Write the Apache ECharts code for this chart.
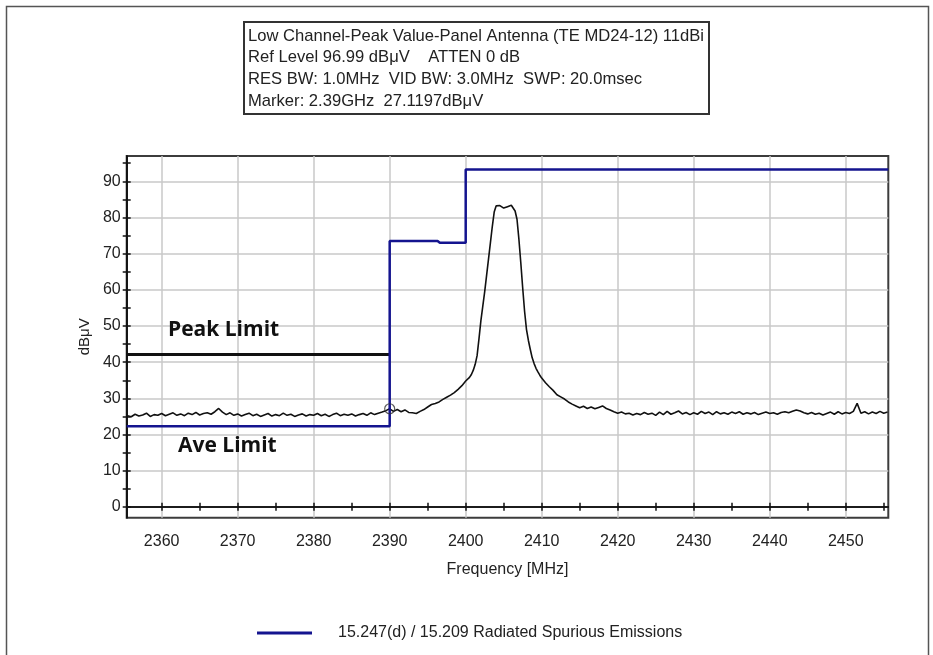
<!DOCTYPE html>
<html>
<head>
<meta charset="utf-8">
<script src="https://cdn.jsdelivr.net/npm/echarts@6/dist/echarts.min.js"></script>
<style>
  html, body { margin: 0; padding: 0; background: #fff; }
  #chart { width: 933px; height: 655px; }
</style>
</head>
<body>
<div id="chart"></div>
<script>
// Analyzer header text
const headerLines = [
  'Low Channel-Peak Value-Panel Antenna (TE MD24-12) 11dBi',
  'Ref Level 96.99 dB\u03bcV    ATTEN 0 dB',
  'RES BW: 1.0MHz  VID BW: 3.0MHz  SWP: 20.0msec',
  'Marker: 2.39GHz  27.1197dB\u03bcV'
];
const limitName = '15.247(d) / 15.209 Radiated Spurious Emissions';
const xAxisTitle = 'Frequency [MHz]';
const yAxisTitle = 'dB\u03bcV';

// Axis extents and tick values
const freqRange = [2355.4, 2455.6];
const levelRange = [-3, 97];
const freqTicks = [2360, 2370, 2380, 2390, 2400, 2410, 2420, 2430, 2440, 2450];
const freqMinorTicks = [2360, 2365, 2370, 2375, 2380, 2385, 2390, 2395, 2400, 2405, 2410,
  2415, 2420, 2425, 2430, 2435, 2440, 2445, 2450, 2455];
const levelTicks = [0, 10, 20, 30, 40, 50, 60, 70, 80, 90];
const levelMinorTicks = [0, 5, 10, 15, 20, 25, 30, 35, 40, 45, 50, 55, 60, 65, 70, 75, 80, 85, 90, 95];

// Measured sweep [MHz, dBuV]
const sweepTrace = [
  [2355.5,25.2],[2356,24.9],[2356.5,25.6],[2357,25.1],[2357.5,25.4],[2358,25.9],[2358.5,25.0],[2359,25.5],
  [2359.5,25.3],[2360,25.8],[2360.5,25.2],[2361,25.6],[2361.5,26.0],[2362,25.3],[2362.5,25.7],[2363,25.2],
  [2363.5,25.9],[2364,25.5],[2364.5,26.1],[2365,25.4],[2365.5,25.8],[2366,26.0],[2366.5,25.6],[2367,26.3],
  [2367.5,27.2],[2368,26.2],[2368.5,25.5],[2369,26.0],[2369.5,25.3],[2370,25.7],[2370.5,25.1],[2371,25.5],
  [2371.5,25.9],[2372,25.2],[2372.5,25.6],[2373,25.0],[2373.5,25.4],[2374,25.8],[2374.5,25.1],[2375,25.5],
  [2375.5,25.2],[2376,25.9],[2376.5,25.3],[2377,25.6],[2377.5,25.0],[2378,25.4],[2378.5,25.7],[2379,25.1],
  [2379.5,25.5],[2380,25.3],[2380.5,25.8],[2381,25.2],[2381.5,25.6],[2382,25.0],[2382.5,25.5],[2383,25.9],
  [2383.5,25.2],[2384,25.6],[2384.5,25.3],[2385,25.7],[2385.5,25.1],[2386,25.5],[2386.5,25.8],[2387,25.3],
  [2387.5,26.0],[2388,25.5],[2388.5,25.9],[2389,26.2],[2389.5,26.6],[2390,27.1],[2390.5,26.4],[2391,26.9],
  [2391.5,26.3],[2392,26.8],[2392.5,26.1],[2393,26.0],[2393.5,25.8],[2394,26.4],[2394.5,26.9],[2395,27.6],
  [2395.5,28.3],[2396,28.6],[2396.5,29.0],[2397,29.7],[2397.5,30.3],[2398,30.9],[2398.5,31.6],[2399,32.5],
  [2399.5,33.5],[2400,34.8],[2400.25,35.3],[2400.5,35.8],[2400.75,36.6],[2401,37.8],[2401.25,39.4],
  [2401.5,41.8],[2401.75,46.5],[2402,51.5],[2402.25,55.5],[2402.5,59.5],[2402.75,64.0],[2403,68.5],
  [2403.25,73.0],[2403.5,77.5],[2403.75,81.5],[2404,83.2],[2404.25,83.4],[2404.5,83.3],[2404.75,83.0],
  [2405,82.6],[2405.25,82.6],[2405.5,83.0],[2405.75,83.3],[2406,83.4],[2406.25,83.0],[2406.5,81.8],
  [2406.75,79.5],[2407,74.0],[2407.25,67.5],[2407.5,60.5],[2407.75,54.0],[2408,49.0],[2408.25,46.0],
  [2408.5,43.5],[2408.75,41.2],[2409,39.6],[2409.25,38.3],[2409.5,37.3],[2409.75,36.4],[2410,35.6],
  [2410.5,34.3],[2411,33.2],[2411.5,32.2],[2412,31.0],[2412.5,30.4],[2413,29.8],[2413.5,29.0],[2414,28.4],
  [2414.5,27.9],[2415,27.4],[2415.5,27.8],[2416,27.2],[2416.5,27.6],[2417,27.1],[2417.5,27.5],[2418,27.9],
  [2418.5,27.2],[2419,26.8],[2419.5,26.3],[2420,25.9],[2420.5,26.2],[2421,25.7],[2421.5,25.9],[2422,25.4],
  [2422.5,25.8],[2423,25.5],[2423.5,26.1],[2424,25.6],[2424.5,25.9],[2425,25.3],[2425.5,26.2],[2426,25.5],
  [2426.5,26.4],[2427,25.6],[2427.5,26.0],[2428,26.5],[2428.5,25.7],[2429,26.1],[2429.5,25.5],[2430,26.0],
  [2430.5,25.6],[2431,26.4],[2431.5,25.8],[2432,26.2],[2432.5,25.5],[2433,26.3],[2433.5,25.7],[2434,26.0],
  [2434.5,25.6],[2435,26.2],[2435.5,25.8],[2436,26.3],[2436.5,25.6],[2437,26.0],[2437.5,25.7],[2438,26.1],
  [2438.5,25.5],[2439,25.9],[2439.5,26.2],[2440,25.8],[2440.5,26.0],[2441,25.6],[2441.5,26.1],[2442,26.3],
  [2442.5,26.0],[2443,26.4],[2443.5,26.8],[2444,26.5],[2444.5,26.0],[2445,25.7],[2445.5,26.1],[2446,25.6],
  [2446.5,25.9],[2447,25.4],[2447.5,25.8],[2448,26.2],[2448.5,25.6],[2449,26.3],[2449.5,25.7],[2450,26.1],
  [2450.5,25.8],[2451,26.4],[2451.5,28.6],[2452,25.9],[2452.5,26.3],[2453,25.7],[2453.5,26.2],[2454,25.8],
  [2454.5,26.4],[2455,25.9],[2455.5,26.2]
];

// Regulatory limit (average below band edge, restricted band / fundamental above)
const limitLine = [
  [2355.4,22.3],[2390,22.3],[2390,73.5],[2396.3,73.5],[2396.6,73.0],[2400,73.0],[2400,93.3],[2455.6,93.3]
];
// Peak limit below the band edge
const peakLimitLine = [[2355.4,42.1],[2390,42.1]];
// Marker reading
const markerPoint = [[2390, 27.1197]];

const FONT = '"Liberation Sans", Arial, sans-serif';
const gridColor = '#c9c9c9';
const plainNumber = v => String(v);

const chart = echarts.init(document.getElementById('chart'), null, { renderer: 'canvas' });

function tickAxis(dim, inside, extra) {
  return Object.assign({
    type: 'value',
    min: dim === 'x' ? freqRange[0] : levelRange[0],
    max: dim === 'x' ? freqRange[1] : levelRange[1],
    axisLine: { show: true, lineStyle: { color: '#111', width: 1.5 } },
    axisTick: {
      show: true, inside: inside, length: 4,
      customValues: dim === 'x' ? freqMinorTicks : levelMinorTicks,
      lineStyle: { color: '#111', width: 1.5 }
    },
    axisLabel: { show: false },
    splitLine: { show: false }
  }, extra);
}

chart.setOption({
  animation: false,
  backgroundColor: '#fff',
  textStyle: { fontFamily: FONT },
  grid: {
    left: 126.7, right: 44.7, top: 156, bottom: 137.3,
    show: true, borderColor: '#3c3c3c', borderWidth: 2, backgroundColor: '#fff',
    outerBoundsMode: 'none'
  },
  legend: {
    data: [limitName],
    left: 257, top: 625, padding: 0,
    icon: 'rect', itemWidth: 55, itemHeight: 3,
    textStyle: { fontFamily: FONT, fontSize: 16, color: '#222', padding: [0, 0, 0, 21] },
    selectedMode: false
  },
  xAxis: [
    {
      type: 'value', min: freqRange[0], max: freqRange[1], position: 'bottom',
      name: xAxisTitle, nameLocation: 'middle', nameGap: 44,
      nameTextStyle: { fontFamily: FONT, fontSize: 16, color: '#222' },
      axisLine: { show: false, onZero: false },
      axisTick: { show: false, customValues: freqTicks },
      axisLabel: { customValues: freqTicks, formatter: plainNumber, margin: 16, fontSize: 16, color: '#222', fontFamily: FONT },
      splitLine: { show: true, lineStyle: { color: gridColor, width: 1.5 } }
    },
    tickAxis('x', true, { position: 'bottom', axisLine: { show: true, onZero: true, onZeroAxisIndex: 0, lineStyle: { color: '#111', width: 1.5 } } }),
    tickAxis('x', false, { position: 'bottom', axisLine: { show: true, onZero: true, onZeroAxisIndex: 0, lineStyle: { color: '#111', width: 1.5 } } })
  ],
  yAxis: [
    {
      type: 'value', min: levelRange[0], max: levelRange[1], position: 'left',
      name: yAxisTitle, nameLocation: 'middle', nameGap: 32, nameRotate: 90,
      nameTextStyle: { fontFamily: FONT, fontSize: 15, color: '#222' },
      axisLine: { show: false, onZero: false },
      axisTick: { show: false, customValues: levelTicks },
      axisLabel: { customValues: levelTicks, formatter: plainNumber, margin: 6, fontSize: 16, color: '#222', fontFamily: FONT },
      splitLine: { show: true, lineStyle: { color: gridColor, width: 1.5 } }
    },
    tickAxis('y', true, { position: 'left', axisLine: { show: true, onZero: false, lineStyle: { color: '#111', width: 1.5 } } }),
    tickAxis('y', false, { position: 'left', axisLine: { show: true, onZero: false, lineStyle: { color: '#111', width: 1.5 } } })
  ],
  series: [
    {
      name: 'Sweep', type: 'line', data: sweepTrace, showSymbol: false, symbol: 'none',
      lineStyle: { color: '#111', width: 1.6 }, z: 3, silent: true
    },
    {
      name: 'Peak Limit', type: 'line', data: peakLimitLine, showSymbol: false, symbol: 'none',
      lineStyle: { color: '#111', width: 3 }, z: 4, silent: true
    },
    {
      name: limitName, type: 'line', data: limitLine, showSymbol: false, symbol: 'none',
      color: '#14148f', lineStyle: { color: '#14148f', width: 2.5 }, z: 5, silent: true
    },
    {
      name: 'Marker', type: 'scatter', data: markerPoint, symbol: 'circle', symbolSize: 10,
      itemStyle: { color: 'rgba(0,0,0,0)', borderColor: '#333', borderWidth: 1.2 }, z: 6, silent: true
    }
  ],
  graphic: [
    {
      type: 'rect', left: 4, top: 4, z: -10, silent: true,
      shape: { width: 922, height: 680 },
      style: { fill: 'none', stroke: '#555', lineWidth: 1.5 }
    },
    {
      type: 'group', left: 243, top: 21, z: 100, children: [
        { type: 'rect', shape: { x: 0, y: 0, width: 465, height: 92 },
          style: { fill: '#fff', stroke: '#333', lineWidth: 2 } },
        ...headerLines.map((t, i) => ({
          type: 'text', x: 4, y: 14 + i * 21.7,
          style: { text: t, font: '16.6px ' + FONT, fill: '#222', verticalAlign: 'middle' }
        }))
      ]
    },
    {
      type: 'text', left: 168, top: 320, z: 100,
      style: { text: 'Peak Limit', font: 'bold 21px "Open Sans", sans-serif', fill: '#111' }
    },
    {
      type: 'text', left: 178, top: 436, z: 100,
      style: { text: 'Ave Limit', font: 'bold 21px "Open Sans", sans-serif', fill: '#111' }
    }
  ]
});
</script>
</body>
</html>
